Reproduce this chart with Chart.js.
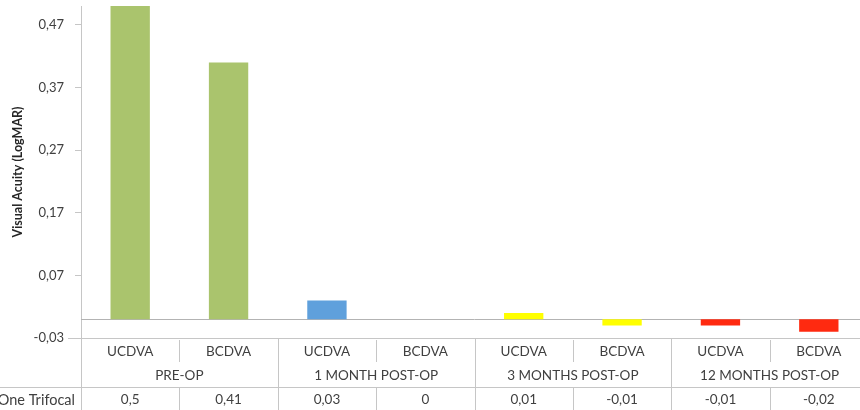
<!DOCTYPE html>
<html>
<head>
<meta charset="utf-8">
<script src="https://cdn.jsdelivr.net/npm/chart.js@4.4.1/dist/chart.umd.min.js"></script>
<style>
  html, body { margin: 0; padding: 0; background: #fff; overflow: hidden; }
  #wrap { width: 860px; height: 410px; overflow: hidden; }
</style>
</head>
<body>
<div id="wrap"><canvas id="chart" width="870" height="410"></canvas></div>
<script>
// data
const groups = ['PRE-OP', '1 MONTH POST-OP', '3 MONTHS POST-OP', '12 MONTHS POST-OP'];
const measures = ['UCDVA', 'BCDVA'];
const seriesName = 'One Trifocal';
const values = [0.5, 0.41, 0.03, 0, 0.01, -0.01, -0.01, -0.02];
const valueLabels = ['0,5', '0,41', '0,03', '0', '0,01', '-0,01', '-0,01', '-0,02'];
const yTicks = [-0.03, 0.07, 0.17, 0.27, 0.37, 0.47];
const groupColors = ['#aac46d', '#5fa0dc', '#ffff00', '#ff2a10'];

const labels = [];
const barColors = [];
groups.forEach((g, gi) => {
  measures.forEach(m => {
    labels.push(m);
    barColors.push(groupColors[gi]);
  });
});

const FONT = 'Lato, "Open Sans", sans-serif';
const TEXT = '#404040';
const LINE = '#c6c6c6';

const tablePlugin = {
  id: 'tablePlugin',
  beforeDatasetsDraw(chart) {
    const { ctx, chartArea, scales } = chart;
    const y0 = Math.round(scales.y.getPixelForValue(0)) + 0.5;
    ctx.save();
    ctx.strokeStyle = '#b3b3b3';
    ctx.lineWidth = 1;
    ctx.beginPath();
    ctx.moveTo(chartArea.left, y0);
    ctx.lineTo(chartArea.right, y0);
    ctx.stroke();
    ctx.restore();
  },
  afterDraw(chart) {
    const { ctx, chartArea, scales } = chart;
    const x = scales.x;
    const top = chartArea.bottom;
    const bottom = chart.height;
    const rowMid = top + 49;
    const n = labels.length;
    const w = (chartArea.right - chartArea.left) / n;
    ctx.save();
    ctx.strokeStyle = LINE;
    ctx.lineWidth = 1;
    const hline = (x1, x2, yy) => {
      ctx.beginPath();
      ctx.moveTo(x1, Math.round(yy) + 0.5);
      ctx.lineTo(x2, Math.round(yy) + 0.5);
      ctx.stroke();
    };
    const vline = (xx, y1, y2) => {
      ctx.beginPath();
      ctx.moveTo(Math.round(xx) + 0.5, y1);
      ctx.lineTo(Math.round(xx) + 0.5, y2);
      ctx.stroke();
    };
    hline(68, chartArea.right, top);
    hline(0, chartArea.right, rowMid);
    vline(chartArea.left, top, bottom);
    for (let i = 1; i <= n; i++) {
      const bx = chartArea.left + i * w;
      if (i % measures.length === 0) {
        vline(bx, top, bottom);
      } else {
        vline(bx, top + 2, top + 24);
        vline(bx, rowMid, bottom);
      }
    }
    ctx.fillStyle = TEXT;
    ctx.font = '13.5px ' + FONT;
    ctx.textAlign = 'center';
    ctx.textBaseline = 'middle';
    labels.forEach((lab, i) => {
      const cx = x.getPixelForValue(i);
      ctx.fillText(lab, cx, top + 14);
      ctx.fillText(valueLabels[i], cx, top + 62);
    });
    groups.forEach((g, gi) => {
      const cx = chartArea.left + (gi * measures.length + measures.length / 2) * w;
      ctx.fillText(g, cx, top + 38);
    });
    ctx.font = '14.5px ' + FONT;
    ctx.textAlign = 'right';
    ctx.fillText(seriesName, 75, top + 62);
    ctx.restore();
  }
};

new Chart(document.getElementById('chart'), {
  type: 'bar',
  data: {
    labels,
    datasets: [{
      label: seriesName,
      data: values,
      backgroundColor: barColors,
      borderWidth: 0,
      barPercentage: 0.4,
      categoryPercentage: 1
    }]
  },
  options: {
    responsive: false,
    animation: false,
    devicePixelRatio: 1,
    layout: { padding: { top: 6, right: 2, left: 0, bottom: 0 } },
    plugins: { legend: { display: false }, tooltip: { enabled: false } },
    scales: {
      x: {
        grid: { display: false },
        border: { display: false },
        ticks: { display: false },
        afterFit(scale) { scale.height = 72; scale.paddingLeft = 0; scale.paddingRight = 0; }
      },
      y: {
        min: -0.03,
        max: 0.5,
        afterBuildTicks(scale) { scale.ticks = yTicks.map(v => ({ value: v })); },
        afterFit(scale) { scale.width = 81; scale.paddingTop = 0; scale.paddingBottom = 0; },
        grid: { drawOnChartArea: false, drawTicks: true, tickLength: 6, color: LINE },
        border: { display: true, color: LINE },
        ticks: {
          padding: 11,
          color: TEXT,
          font: { family: FONT, size: 13 },
          callback: v => v.toFixed(2).replace('.', ',')
        },
        title: {
          display: true,
          text: 'Visual Acuity (LogMAR)',
          color: '#262626',
          font: { family: FONT, size: 12.5, weight: 'bold' },
          padding: { top: 10, bottom: 0 }
        }
      }
    }
  },
  plugins: [tablePlugin]
});
</script>
</body>
</html>
